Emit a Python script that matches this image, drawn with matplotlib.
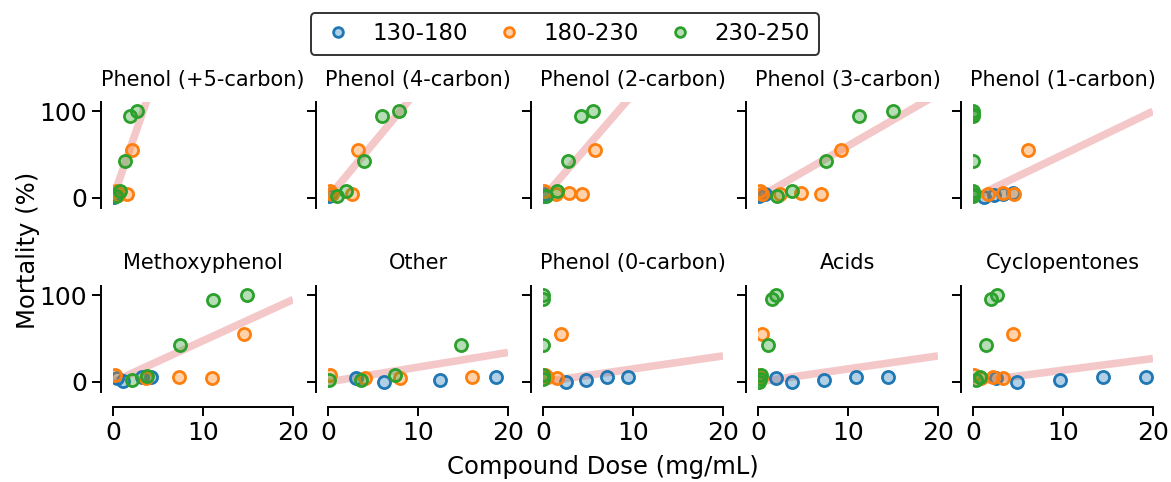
import matplotlib
matplotlib.use('Agg')
import matplotlib.pyplot as plt
import numpy as np
from matplotlib.lines import Line2D

panels = ['Phenol (+5-carbon)', 'Phenol (4-carbon)', 'Phenol (2-carbon)', 'Phenol (3-carbon)',
          'Phenol (1-carbon)', 'Methoxyphenol', 'Other', 'Phenol (0-carbon)', 'Acids', 'Cyclopentones']
groups = ['130-180', '180-230', '230-250']

# dose (mg/mL) and mortality (%) per panel, one list per temperature group
dose_130 = [[0.1, 0.2, 0.3], [0.1, 0.3], [0.1, 0.2], [0.1, 0.5, 0.8],
            [1.2, 2.3, 3.3, 4.4], [1.1, 3.2, 4.2, 0.4], [18.7, 12.4, 6.2, 3.1],
            [2.6, 4.8, 7.1, 9.4], [2.0, 3.8, 7.3, 10.9, 14.4], [4.9, 9.7, 14.4, 19.2, 2.6]]
mort_130 = [[1, 4, 6], [2, 4], [2, 5], [2, 4, 5],
            [1, 3, 5, 6], [1, 6, 6, 4], [6, 2, 0, 4],
            [0, 2, 6, 6], [4, 0, 2, 6, 6], [0, 2, 6, 6, 4]]
dose_180 = [[2.1, 1.5, 0.3, 0.5], [3.3, 2.7, 0.2, 0.5], [5.8, 2.9, 4.3, 1.5, 0.1],
            [9.2, 7.0, 4.8, 2.4, 0.2, 0.4], [6.1, 1.7, 3.3, 4.6], [14.6, 7.3, 11.0, 3.7, 0.2],
            [16.0, 4.1, 8.0, 0.2], [2.0, 1.6, 0.5, 0.2], [0.5, 0.1, 0.3], [4.4, 2.2, 3.3, 0.9, 0.1]]
mort_180 = [[55, 5, 8, 3], [55, 4, 8, 5], [55, 6, 4, 4, 8],
            [55, 5, 6, 5, 8, 4], [55, 5, 6, 5], [55, 6, 5, 5, 8],
            [6, 4, 5, 8], [55, 4, 6, 8], [55, 8, 4], [55, 6, 4, 5, 8]]
dose_230 = [[2.7, 1.9, 1.3, 0.8, 0.3], [7.9, 6.0, 4.0, 2.0, 1.0], [5.6, 4.2, 2.8, 1.6, 0.3],
            [15.0, 11.2, 7.6, 3.8, 2.1], [0.0, 0.0, 0.0, 0.0, 0.0, 0.0, 0.0],
            [14.9, 11.1, 7.4, 2.1, 3.8], [14.8, 3.7, 7.4, 0.1], [0.0, 0.0, 0.0, 0.0, 0.0],
            [2.0, 1.6, 1.1, 0.3, 0.2, 0.1], [2.7, 2.0, 1.4, 0.8, 0.3]]
mort_230 = [[100, 95, 43, 8, 2], [100, 95, 43, 8, 2], [100, 95, 43, 8, 2],
            [100, 95, 43, 8, 2], [100, 97, 95, 43, 8, 5, 2],
            [100, 95, 43, 2, 7], [43, 2, 8, 2], [100, 96, 43, 8, 3],
            [100, 96, 43, 8, 3, 0], [100, 96, 43, 6, 2]]

# slope of the fitted line (through the origin) in each panel
fit_slope = [30, 12.5, 12, 6, 5, 4.75, 1.7, 1.5, 1.5, 1.35]

colors = ['#1f77b4', '#ff7f0e', '#2ca02c']
doses = [dose_130, dose_180, dose_230]
morts = [mort_130, mort_180, mort_230]

plt.rcParams['font.family'] = 'DejaVu Sans'
fig, axes = plt.subplots(2, 5, figsize=(11.71, 4.82), dpi=100, sharex=True, sharey=True)
fig.subplots_adjust(left=0.0965, right=0.9846, top=0.788, bottom=0.187, wspace=0.194, hspace=0.74)

for i, ax in enumerate(axes.flat):
    xs = np.array([0, 20])
    ax.plot(xs, fit_slope[i] * xs, color='#d62728', alpha=0.25, lw=5.5, zorder=1,
            solid_capstyle='butt')
    for g in range(3):
        ax.scatter(doses[g][i], morts[g][i], s=76, facecolor=colors[g] + '58',
                   edgecolor=colors[g], linewidth=2.0, zorder=3)
    ax.set_title(panels[i], fontsize=15, pad=12)
    ax.set_xlim(0, 20)
    ax.set_ylim(-11.5, 110.5)
    ax.set_xticks([0, 10, 20])
    ax.set_yticks([0, 100])
    ax.spines['top'].set_visible(False)
    ax.spines['right'].set_visible(False)
    ax.spines['left'].set_position(('outward', 8.6))
    ax.spines['bottom'].set_position(('outward', 10.8))
    ax.spines['bottom'].set_bounds(0, 20)
    ax.tick_params(labelsize=18, width=1.4, length=6.5)
    for s in ['left', 'bottom']:
        ax.spines[s].set_linewidth(1.4)
    if i < 5:
        ax.spines['bottom'].set_visible(False)
        ax.tick_params(axis='x', bottom=False)

handles = [Line2D([], [], ls='', marker='o', markersize=7, markerfacecolor=c + '58',
                  markeredgecolor=c, markeredgewidth=2.0) for c in colors]
leg = fig.legend(handles, groups, loc='center', bbox_to_anchor=(565 / 1171, 1 - 34 / 482),
                 ncol=3, fontsize=16.5, frameon=True, fancybox=True, edgecolor='black',
                 handletextpad=0.7, columnspacing=1.0, handlelength=1.6)
leg.get_frame().set_linewidth(1.4)

fig.text(603 / 1171, 1 - 467 / 482, 'Compound Dose (mg/mL)', ha='center', va='center', fontsize=17.5)
fig.text(28 / 1171, 1 - 250 / 482, 'Mortality (%)', ha='center', va='center', rotation=90, fontsize=17.5)

fig.savefig('out.png', dpi=100)
